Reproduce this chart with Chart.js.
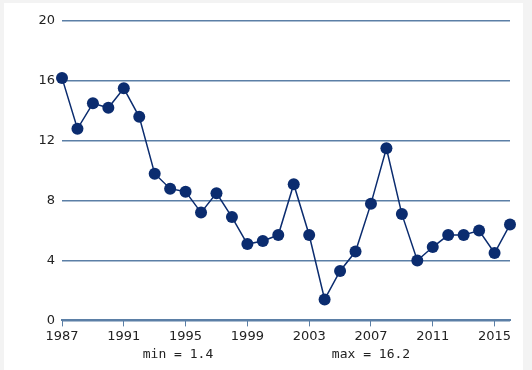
<!DOCTYPE html>
<html>
<head>
<meta charset="utf-8">
<script src="https://cdn.jsdelivr.net/npm/chart.js@4.4.1/dist/chart.umd.min.js"></script>
<style>
  html, body { margin: 0; padding: 0; background: #f3f3f3; }
  #frame { position: absolute; left: 4px; top: 3px; width: 519px; height: 367px; background: #fff; }
  #wrap { position: absolute; left: 0; top: 0; width: 532px; height: 370px; }
  .stat { position: absolute; font: 13px "DejaVu Sans Mono", monospace; color: #222; transform: translateX(-50%); white-space: nowrap; }
</style>
</head>
<body>
<div id="frame"></div>
<div id="wrap"><canvas id="chart" width="532" height="370"></canvas></div>
<div class="stat" id="minLabel" style="left:178px; top:346px;"></div>
<div class="stat" id="maxLabel" style="left:371px; top:346px;"></div>
<script>
const years = [1987, 1988, 1989, 1990, 1991, 1992, 1993, 1994, 1995, 1996,
  1997, 1998, 1999, 2000, 2001, 2002, 2003, 2004, 2005, 2006,
  2007, 2008, 2009, 2010, 2011, 2012, 2013, 2014, 2015, 2016];
const values = [16.2, 12.8, 14.5, 14.2, 15.5, 13.6, 9.8, 8.8, 8.6, 7.2,
  8.5, 6.9, 5.1, 5.3, 5.7, 9.1, 5.7, 1.4, 3.3, 4.6,
  7.8, 11.5, 7.1, 4.0, 4.9, 5.7, 5.7, 6.0, 4.5, 6.4];
const yTicks = [0, 4, 8, 12, 16, 20];

document.getElementById('minLabel').textContent = 'min = ' + Math.min(...values);
document.getElementById('maxLabel').textContent = 'max = ' + Math.max(...values);

const navy = '#0b2c6f';
const gridBlue = '#5b7fa6';

new Chart(document.getElementById('chart'), {
  type: 'line',
  data: {
    labels: years,
    datasets: [{
      data: values,
      borderColor: navy,
      backgroundColor: navy,
      borderWidth: 1.5,
      tension: 0,
      pointRadius: 6,
      pointBorderWidth: 0,
      pointBackgroundColor: navy
    }]
  },
  options: {
    responsive: false,
    animation: false,
    layout: { padding: { left: 0, right: 22, top: 21, bottom: 24 } },
    plugins: { legend: { display: false }, tooltip: { enabled: false } },
    scales: {
      x: {
        type: 'category',
        offset: false,
        border: { color: gridBlue, width: 2 },
        grid: { drawOnChartArea: false, drawTicks: true, tickLength: 6, color: gridBlue, lineWidth: 1 },
        ticks: {
          autoSkip: false,
          maxRotation: 0,
          color: '#222',
          padding: 2,
          font: { family: 'DejaVu Sans', size: 13 },
          callback: (value, index) => (index % 4 === 0 ? years[index] : null)
        }
      },
      y: {
        min: yTicks[0],
        max: yTicks[yTicks.length - 1],
        afterBuildTicks: (axis) => { axis.ticks = yTicks.map((v) => ({ value: v })); },
        border: { display: false },
        grid: { color: gridBlue, lineWidth: 1.5, drawTicks: false },
        ticks: {
          color: '#222',
          padding: 7,
          font: { family: 'DejaVu Sans', size: 13 }
        },
        afterFit: (axis) => { axis.width = 62; }
      }
    }
  }
});
</script>
</body>
</html>
